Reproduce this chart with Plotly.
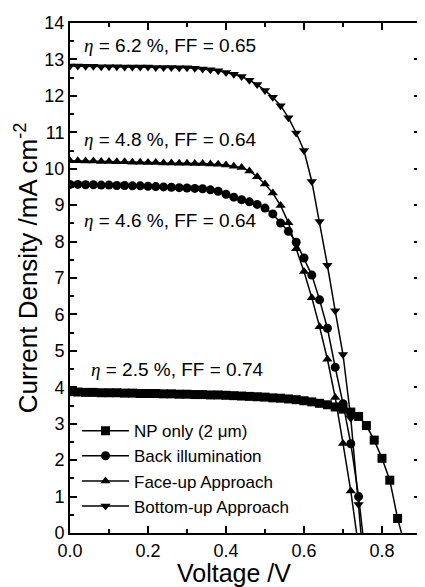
import plotly.graph_objects as go

# Voltage grid (V)
V = [0.00, 0.02, 0.04, 0.06, 0.08, 0.10, 0.12, 0.14, 0.16, 0.18,
     0.20, 0.22, 0.24, 0.26, 0.28, 0.30, 0.32, 0.34, 0.36, 0.38,
     0.40, 0.42, 0.44, 0.46, 0.48, 0.50, 0.52, 0.54, 0.56, 0.58,
     0.60, 0.62, 0.64, 0.66, 0.68, 0.70, 0.72, 0.74, 0.76, 0.78,
     0.80, 0.82, 0.84, 0.86]

# Current density (mA cm^-2)
J_np = [3.88, 3.87, 3.86, 3.86, 3.85, 3.85, 3.85, 3.84, 3.84, 3.83,
        3.83, 3.83, 3.82, 3.82, 3.81, 3.81, 3.80, 3.80, 3.79, 3.79,
        3.78, 3.77, 3.76, 3.75, 3.74, 3.73, 3.71, 3.70, 3.68, 3.66,
        3.63, 3.60, 3.56, 3.52, 3.46, 3.40, 3.32, 3.20, 2.95, 2.55,
        2.05, 1.45, 0.40, -0.40]
J_back = [9.57, 9.57, 9.56, 9.56, 9.55, 9.55, 9.54, 9.54, 9.53, 9.53,
          9.52, 9.51, 9.50, 9.49, 9.48, 9.47, 9.46, 9.45, 9.42, 9.38,
          9.30, 9.22, 9.15, 9.09, 9.02, 8.92, 8.76, 8.51, 8.28, 7.98,
          7.55, 7.08, 6.40, 5.62, 4.55, 3.55, 2.45, 1.00, -0.90]
J_face = [10.22, 10.22, 10.21, 10.21, 10.20, 10.20, 10.19, 10.19, 10.18, 10.18,
          10.17, 10.17, 10.16, 10.16, 10.15, 10.15, 10.14, 10.14, 10.13, 10.12,
          10.10, 10.07, 10.03, 9.94, 9.78, 9.58, 9.33, 8.99, 8.52, 7.80,
          7.18, 6.46, 5.66, 4.77, 3.72, 2.46, 1.15, -0.40]
J_bottom = [12.82, 12.82, 12.81, 12.81, 12.80, 12.80, 12.80, 12.79, 12.79, 12.79,
            12.79, 12.78, 12.78, 12.78, 12.77, 12.77, 12.76, 12.74, 12.72, 12.69,
            12.64, 12.59, 12.53, 12.43, 12.31, 12.15, 11.96, 11.73, 11.40, 10.98,
            10.50, 9.65, 8.55, 7.35, 6.10, 4.90, 3.15, 0.78, -1.70]

names = ["NP only (2 \u03bcm)", "Back illumination", "Face-up Approach", "Bottom-up Approach"]
series = [J_np, J_back, J_face, J_bottom]
symbols = ["square", "circle", "triangle-up", "triangle-down"]

labels = ["= 6.2 %, FF = 0.65", "= 4.8 %, FF = 0.64", "= 4.6 %, FF = 0.64", "= 2.5 %, FF = 0.74"]
label_x = [0.031, 0.031, 0.031, 0.048]
label_y = [13.39, 10.80, 8.58, 4.50]

x_title = "Voltage /V"
y_title = "Current Density /mA cm<sup>-2</sup>"

FONT = "Liberation Sans, Arial, sans-serif"

fig = go.Figure()
for name, J, sym in zip(names, series, symbols):
    fig.add_trace(go.Scatter(
        x=V[:len(J)], y=J, name=name, mode="lines+markers",
        line=dict(color="black", width=1.5),
        marker=dict(symbol=sym, size=9, color="black"),
    ))

for txt, lx, ly in zip(labels, label_x, label_y):
    fig.add_annotation(
        x=lx, y=ly, xref="x", yref="y", xanchor="left", yanchor="middle",
        text='<span style="font-family:Liberation Serif"><i>\u03b7</i></span> ' + txt,
        showarrow=False, font=dict(size=19, color="black", family=FONT),
    )

# axis titles placed as paper annotations (the reference titles sit slightly off-centre)
fig.add_annotation(
    x=0.467, y=-0.078, xref="paper", yref="paper", xanchor="center", yanchor="middle",
    text=x_title, showarrow=False, font=dict(size=25, color="black", family=FONT),
)
fig.add_annotation(
    x=-0.124, y=0.52, xref="paper", yref="paper", xanchor="center", yanchor="middle",
    text=y_title, textangle=-90, showarrow=False,
    font=dict(size=26, color="black", family=FONT),
)

axis_common = dict(
    showline=True, linewidth=2, linecolor="black", mirror="ticks",
    ticks="inside", ticklen=7, tickwidth=1.5, tickcolor="black",
    showgrid=False, zeroline=False,
    tickfont=dict(size=18, color="black", family=FONT),
)

fig.update_xaxes(
    range=[0, 0.9], dtick=0.2, tick0=0, tickformat=".1f",
    minor=dict(dtick=0.1, ticklen=4, ticks="inside", tickcolor="black", tickwidth=1.5),
    **axis_common,
)
fig.update_yaxes(
    range=[0, 14], dtick=1, tick0=0,
    minor=dict(dtick=0.5, ticklen=4, ticks="inside", tickcolor="black", tickwidth=1.5),
    **axis_common,
)

# the page body adds an 8 px offset; size the figure so the plot frame lands where the reference has it
fig.update_layout(
    width=417, height=579,
    margin=dict(l=62, r=2, t=15, b=54),
    plot_bgcolor="white", paper_bgcolor="white",
    font=dict(family=FONT, color="black"),
    legend=dict(
        x=0.02, y=0.235, xanchor="left", yanchor="top",
        bgcolor="rgba(0,0,0,0)", font=dict(size=17, color="black", family=FONT),
        itemwidth=47, tracegroupgap=0,
    ),
)

fig.write_html("out.html")
